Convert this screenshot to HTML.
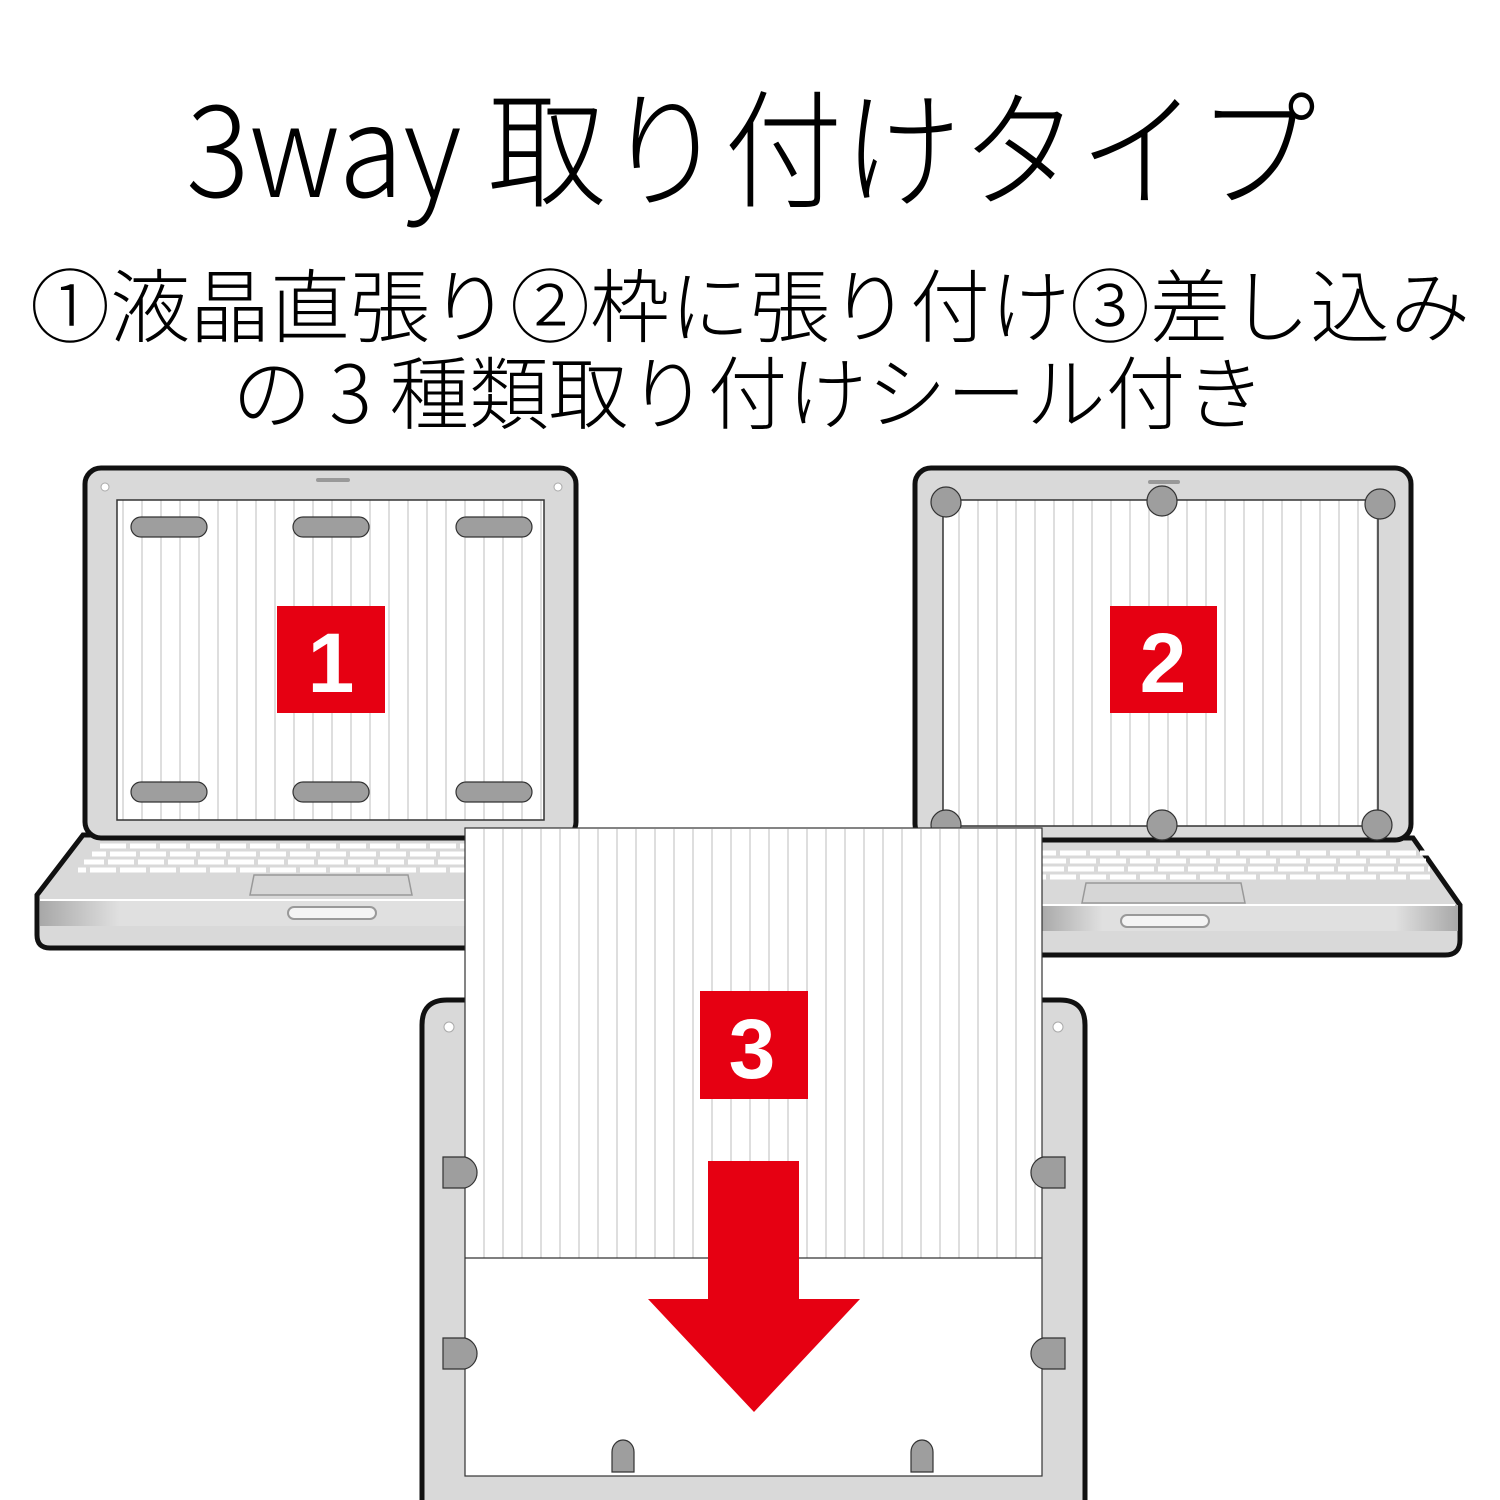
<!DOCTYPE html>
<html><head><meta charset="utf-8"><style>html,body{margin:0;padding:0;background:#fff}svg{display:block}</style></head>
<body>
<svg width="1500" height="1500" viewBox="0 0 1500 1500" xmlns="http://www.w3.org/2000/svg">
<defs>
<pattern id="st" x="0" y="0" width="19" height="10" patternUnits="userSpaceOnUse"><rect width="19" height="10" fill="#fff"/><line x1="9" y1="0" x2="9" y2="10" stroke="#bdbdbd" stroke-width="1"/></pattern>
<linearGradient id="fr" x1="0" x2="1"><stop offset="0" stop-color="#a8a8a8"/><stop offset="0.15" stop-color="#e0e0e0"/><stop offset="0.85" stop-color="#e0e0e0"/><stop offset="1" stop-color="#a8a8a8"/></linearGradient>
<g id="kb" stroke="#fff" stroke-width="5" stroke-dasharray="26,4">
<line x1="0" y1="3" x2="400" y2="3"/><line x1="-8" y1="11" x2="400" y2="11" stroke-dashoffset="12"/><line x1="-16" y1="19" x2="400" y2="19" stroke-dashoffset="6"/><line x1="-22" y1="27" x2="400" y2="27" stroke-dashoffset="18"/>
</g>
</defs>
<g font-family="'Noto Sans CJK JP',sans-serif" font-weight="300" fill="#000">
<text x="186" y="197" font-size="128" textLength="1130" lengthAdjust="spacingAndGlyphs">3way 取り付けタイプ</text>
<text x="30" y="336" font-size="80" textLength="1440" lengthAdjust="spacingAndGlyphs">①液晶直張り②枠に張り付け③差し込み</text>
<text x="232" y="423" font-size="80" textLength="1033" lengthAdjust="spacingAndGlyphs">の 3 種類取り付けシール付き</text>
</g>

<!-- Laptop 1 -->
<path d="M83,835 L37,895 L37,935 Q37,948 50,948 L570,948 L570,835 Z" fill="#d9d9d9" stroke="#111" stroke-width="5"/>
<rect x="40" y="900" width="530" height="26" fill="url(#fr)"/>
<line x1="40" y1="900" x2="570" y2="900" stroke="#fff" stroke-width="2"/>
<g transform="translate(100,843)"><use href="#kb"/></g>
<path d="M254,875 L408,875 L412,895 L250,895 Z" fill="#d6d6d6" stroke="#999" stroke-width="1.5"/>
<rect x="288" y="907" width="88" height="12" rx="6" fill="#f4f4f4" stroke="#999" stroke-width="2"/>
<rect x="85" y="468" width="491" height="370" rx="16" fill="#d9d9d9" stroke="#111" stroke-width="5"/>
<rect x="117" y="500" width="427" height="320" fill="url(#st)" stroke="#333" stroke-width="1.5"/>
<rect x="316" y="478" width="34" height="4" rx="2" fill="#999"/>
<circle cx="105" cy="487" r="4" fill="#fff" stroke="#aaa"/><circle cx="558" cy="487" r="4" fill="#fff" stroke="#aaa"/>
<g fill="#9e9e9e" stroke="#333" stroke-width="1.2">
<rect x="131" y="517" width="76" height="20" rx="10"/><rect x="293" y="517" width="76" height="20" rx="10"/><rect x="456" y="517" width="76" height="20" rx="10"/>
<rect x="131" y="782" width="76" height="20" rx="10"/><rect x="293" y="782" width="76" height="20" rx="10"/><rect x="456" y="782" width="76" height="20" rx="10"/>
</g>
<rect x="277" y="606" width="108" height="107" fill="#e60012"/>
<text x="331" y="692" font-family="'Liberation Sans',sans-serif" font-weight="bold" font-size="84" fill="#fff" text-anchor="middle">1</text>

<!-- Laptop 2 -->
<path d="M913,838 L1413,838 L1460,905 L1460,940 Q1460,955 1445,955 L930,955 Z" fill="#d9d9d9" stroke="#111" stroke-width="5"/>
<rect x="1040" y="905" width="418" height="26" fill="url(#fr)"/>
<line x1="1040" y1="905" x2="1455" y2="905" stroke="#fff" stroke-width="2"/>
<g transform="translate(1030,850)"><use href="#kb"/></g>
<path d="M1086,883 L1241,883 L1245,903 L1082,903 Z" fill="#d6d6d6" stroke="#999" stroke-width="1.5"/>
<rect x="1121" y="915" width="88" height="12" rx="6" fill="#f4f4f4" stroke="#999" stroke-width="2"/>
<rect x="915" y="468" width="496" height="372" rx="16" fill="#d9d9d9" stroke="#111" stroke-width="5"/>
<rect x="943" y="500" width="435" height="326" fill="url(#st)" stroke="#333" stroke-width="1.5"/>
<rect x="1148" y="480" width="32" height="4" rx="2" fill="#999"/>
<g fill="#9e9e9e" stroke="#333" stroke-width="1.2">
<circle cx="946" cy="502" r="15"/><circle cx="1162" cy="501" r="15"/><circle cx="1380" cy="504" r="15"/>
<circle cx="946" cy="825" r="15"/><circle cx="1162" cy="825" r="15"/><circle cx="1377" cy="825" r="15"/>
</g>
<rect x="1110" y="606" width="107" height="107" fill="#e60012"/>
<text x="1163" y="692" font-family="'Liberation Sans',sans-serif" font-weight="bold" font-size="84" fill="#fff" text-anchor="middle">2</text>

<!-- Laptop 3 -->
<path d="M422,1500 L422,1025 Q422,1000 447,1000 L1060,1000 Q1085,1000 1085,1025 L1085,1500" fill="#d9d9d9" stroke="#111" stroke-width="5"/>
<circle cx="449" cy="1027" r="5" fill="#fff" stroke="#aaa"/><circle cx="1058" cy="1027" r="5" fill="#fff" stroke="#aaa"/>
<rect x="465" y="828" width="577" height="648" fill="#fff" stroke="#333" stroke-width="1.2"/>
<rect x="466" y="829" width="575" height="429" fill="url(#st)"/>
<line x1="465" y1="1258" x2="1042" y2="1258" stroke="#333" stroke-width="1.2"/>
<g fill="#9e9e9e" stroke="#333" stroke-width="1.2">
<path d="M443,1157 L465,1157 A16,16 0 0 1 465,1188 L443,1188 Z"/>
<path d="M443,1338 L465,1338 A16,16 0 0 1 465,1369 L443,1369 Z"/>
<path d="M1065,1157 L1043,1157 A16,16 0 0 0 1043,1188 L1065,1188 Z"/>
<path d="M1065,1338 L1043,1338 A16,16 0 0 0 1043,1369 L1065,1369 Z"/>
<path d="M612,1472 L612,1452 A11,12 0 0 1 634,1452 L634,1472 Z"/>
<path d="M911,1472 L911,1452 A11,12 0 0 1 933,1452 L933,1472 Z"/>
</g>
<rect x="700" y="991" width="108" height="108" fill="#e60012"/>
<text x="752" y="1078" font-family="'Liberation Sans',sans-serif" font-weight="bold" font-size="84" fill="#fff" text-anchor="middle">3</text>
<path d="M708,1161 L799,1161 L799,1299 L860,1299 L754,1412 L648,1299 L708,1299 Z" fill="#e60012"/>
</svg>
</body></html>
